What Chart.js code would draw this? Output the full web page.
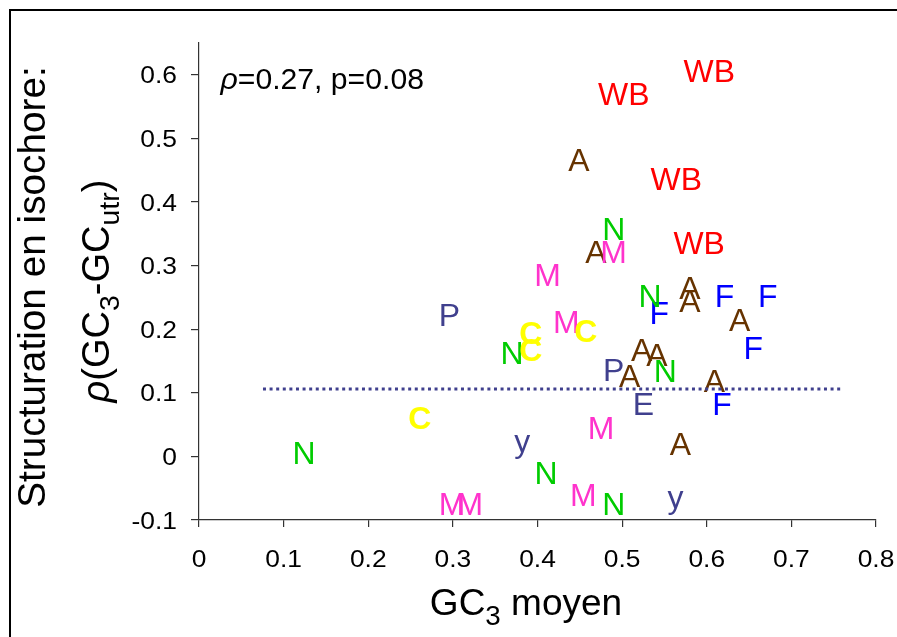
<!DOCTYPE html>
<html>
<head>
<meta charset="utf-8">
<script src="https://cdn.jsdelivr.net/npm/chart.js@4.4.0/dist/chart.umd.min.js"></script>
<style>
    html, body { margin: 0; padding: 0; background: #fff; }
    canvas { display: block; }
</style>
</head>
<body>
<canvas id="chart" width="897" height="637"></canvas>
<script>
// axis ticks
const xTicks = [0, 0.1, 0.2, 0.3, 0.4, 0.5, 0.6, 0.7, 0.8];
const xTickLabels = ["0", "0.1", "0.2", "0.3", "0.4", "0.5", "0.6", "0.7", "0.8"];
const yTicks = [-0.1, 0, 0.1, 0.2, 0.3, 0.4, 0.5, 0.6];
const yTickLabels = ["-0.1", "0", "0.1", "0.2", "0.3", "0.4", "0.5", "0.6"];

// points, one pair of arrays per letter
const pX = [0.296, 0.490];
const pY = [0.223, 0.136];
const eX = [0.525];
const eY = [0.083];
const yeastX = [0.382, 0.563];
const yeastY = [0.024, -0.064];
const fX = [0.544, 0.621, 0.672, 0.655, 0.618];
const fY = [0.226, 0.253, 0.253, 0.171, 0.082];
const aX = [0.449, 0.469, 0.580, 0.580, 0.639, 0.523, 0.541, 0.509, 0.609, 0.569];
const aY = [0.466, 0.321, 0.265, 0.245, 0.214, 0.167, 0.160, 0.126, 0.119, 0.019];
const nX = [0.490, 0.533, 0.370, 0.551, 0.124, 0.410, 0.490];
const nY = [0.358, 0.252, 0.163, 0.135, 0.006, -0.026, -0.075];
const mX = [0.490, 0.412, 0.434, 0.475, 0.454, 0.299, 0.320];
const mY = [0.322, 0.285, 0.212, 0.045, -0.060, -0.075, -0.075];
const cX = [0.392, 0.392, 0.457, 0.261];
const cY = [0.194, 0.167, 0.197, 0.060];
const wbX = [0.603, 0.502, 0.564, 0.591];
const wbY = [0.606, 0.570, 0.437, 0.335];

// mean line
const meanX = [0.0756, 0.761];
const meanY = [0.1058, 0.1058];

const FONT = "'Liberation Sans', Arial, sans-serif";
const SLATE = "#40408e";

function toPoints(xs, ys) {
    return xs.map((x, i) => ({ x: x, y: ys[i] }));
}

function letterSet(text, color, xs, ys, bold) {
    return {
        type: "scatter",
        label: text,
        data: toPoints(xs, ys),
        pointRadius: 0,
        pointHoverRadius: 0,
        letter: text,
        letterColor: color,
        letterBold: !!bold,
    };
}

// draws text made of parts ({t, sub, italic}) with a horizontal stretch
function drawRich(ctx, parts, x, y, size, opts) {
    opts = opts || {};
    const sx = opts.sx || 1;
    const subSize = size * 0.75;
    const fontOf = (p) =>
        (p.italic ? "italic " : "") + (opts.bold ? "bold " : "") +
        (p.sub ? subSize : size) + "px " + FONT;
    let w = 0;
    parts.forEach((p) => {
        ctx.font = fontOf(p);
        p.w = ctx.measureText(p.t).width;
        w += p.w;
    });
    ctx.save();
    ctx.translate(x, y);
    if (opts.rotate) ctx.rotate(opts.rotate);
    ctx.scale(sx, 1);
    ctx.fillStyle = opts.color || "#000";
    ctx.textBaseline = "alphabetic";
    ctx.textAlign = "left";
    let cx = opts.align === "left" ? 0 : opts.align === "right" ? -w : -w / 2;
    parts.forEach((p) => {
        ctx.font = fontOf(p);
        ctx.fillText(p.t, cx, p.sub ? size * 0.27 : 0);
        cx += p.w;
    });
    ctx.restore();
}

const letterPlugin = {
    id: "letters",
    beforeDatasetsDraw(chart) {
        const ctx = chart.ctx;
        chart.data.datasets.forEach((ds, i) => {
            if (!ds.letter) return;
            const size = 31;
            chart.getDatasetMeta(i).data.forEach((pt) => {
                drawRich(ctx, [{ t: ds.letter }], pt.x, pt.y + size * 0.358, size, {
                    color: ds.letterColor,
                    bold: ds.letterBold,
                    sx: 1.03,
                });
            });
        });
    },
};

const textPlugin = {
    id: "texts",
    afterDraw(chart) {
        const ctx = chart.ctx;
        const xs = chart.scales.x;
        const ys = chart.scales.y;

        // outer frame
        ctx.save();
        ctx.strokeStyle = "#000";
        ctx.lineWidth = 2;
        ctx.strokeRect(10, 10, 1000, 1000);
        ctx.restore();

        // tick labels
        xTicks.forEach((v, i) => {
            drawRich(ctx, [{ t: xTickLabels[i] }], xs.getPixelForValue(v), ys.bottom + 46.5, 24, { sx: 1.1 });
        });
        yTicks.forEach((v, i) => {
            drawRich(ctx, [{ t: yTickLabels[i] }], xs.left - 22, ys.getPixelForValue(v) + 8.5, 24, { sx: 1.1, align: "right" });
        });

        // correlation note
        drawRich(ctx, [{ t: "\u03c1", italic: true }, { t: "=0.27, p=0.08" }], xs.left + 21.5, 89, 29, { align: "left", sx: 1.04 });

        // x title
        drawRich(ctx, [{ t: "GC" }, { t: "3", sub: true }, { t: " moyen" }], 526, 615, 37);

        // y title, two lines
        drawRich(ctx, [{ t: "Structuration en isochore:" }], 45, 287, 38, { rotate: -Math.PI / 2, sx: 1.02 });
        drawRich(ctx, [
            { t: "\u03c1", italic: true }, { t: "(GC" }, { t: "3", sub: true },
            { t: "-GC" }, { t: "utr", sub: true }, { t: ")" },
        ], 109, 291, 38, { rotate: -Math.PI / 2 });
    },
};

const datasets = [
    letterSet("P", SLATE, pX, pY),
    letterSet("E", SLATE, eX, eY),
    letterSet("y", SLATE, yeastX, yeastY),
    letterSet("F", "#0000ff", fX, fY),
    letterSet("A", "#663300", aX, aY),
    letterSet("N", "#00cc00", nX, nY),
    letterSet("M", "#ff33cc", mX, mY),
    letterSet("C", "#ffff00", cX, cY, true),
    letterSet("WB", "#ff0000", wbX, wbY),
    {
        type: "line",
        label: "mean",
        data: toPoints(meanX, meanY),
        borderColor: SLATE,
        borderWidth: 3,
        borderDash: [3, 3.6],
        pointRadius: 0,
        fill: false,
    },
];

const axisGrid = {
    drawOnChartArea: false,
    drawTicks: true,
    color: "#333",
    lineWidth: 1.2,
};

new Chart(document.getElementById("chart"), {
    type: "scatter",
    data: { datasets: datasets },
    options: {
        responsive: false,
        animation: false,
        layout: { padding: { top: 43, right: 21, left: 0, bottom: 0 } },
        plugins: {
            legend: { display: false },
            tooltip: { enabled: false },
        },
        scales: {
            x: {
                type: "linear",
                min: 0,
                max: 0.8,
                afterBuildTicks: (s) => { s.ticks = xTicks.map((v) => ({ value: v })); },
                afterFit: (s) => { s.height = 117; },
                ticks: { display: false },
                grid: Object.assign({ tickLength: 7 }, axisGrid),
                border: { display: true, color: "#333", width: 1.2 },
            },
            y: {
                type: "linear",
                min: -0.1,
                max: 0.65,
                afterBuildTicks: (s) => { s.ticks = yTicks.map((v) => ({ value: v })); },
                afterFit: (s) => { s.width = 199; },
                ticks: { display: false },
                grid: Object.assign({ tickLength: 8 }, axisGrid),
                border: { display: true, color: "#333", width: 1.2 },
            },
        },
    },
    plugins: [letterPlugin, textPlugin],
});
</script>
</body>
</html>
